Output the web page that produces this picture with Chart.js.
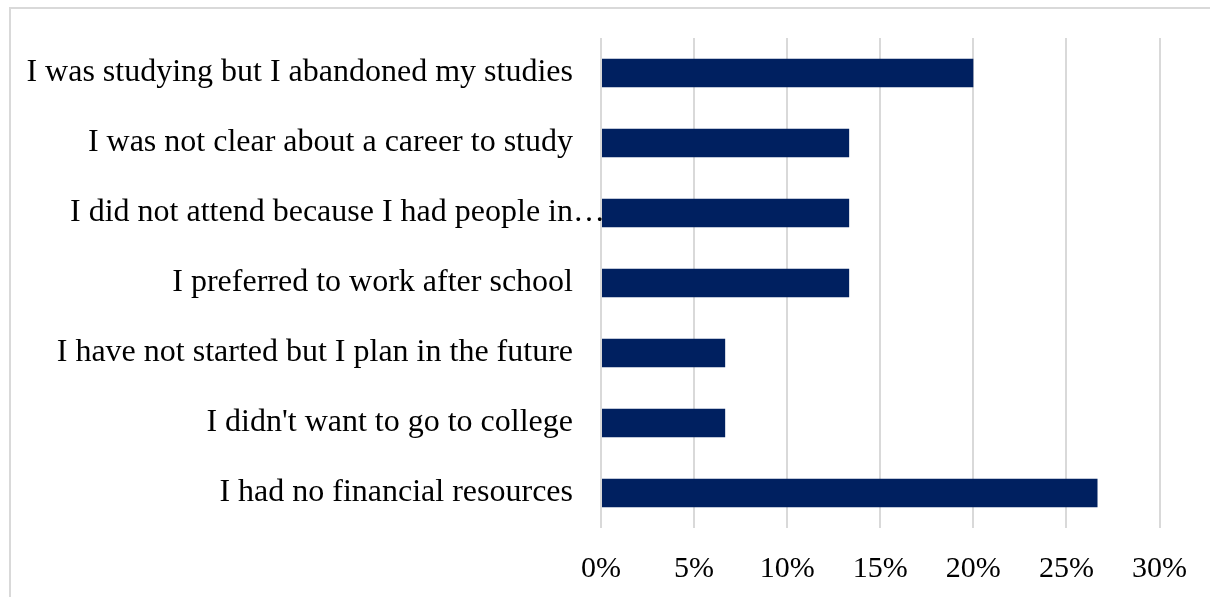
<!DOCTYPE html>
<html>
<head>
<meta charset="utf-8">
<script src="https://cdn.jsdelivr.net/npm/chart.js@4"></script>
<style>
  html, body { margin: 0; padding: 0; background: #fff; }
  #wrap { position: relative; width: 1210px; height: 597px; }
</style>
</head>
<body>
<div id="wrap"><canvas id="reasons"></canvas></div>
<script>
// Reasons for not continuing studies (share of respondents)
const reasons = [
    'I was studying but I abandoned my studies',
    'I was not clear about a career to study',
    'I did not attend because I had people in\u2026',
    'I preferred to work after school',
    'I have not started but I plan in the future',
    "I didn't want to go to college",
    'I had no financial resources'
];
const shares = [20.0, 13.33, 13.33, 13.33, 6.67, 6.67, 26.67];
const tickValues = [0, 5, 10, 15, 20, 25, 30];

const serif = "'Liberation Serif', 'Times New Roman', serif";
const labelFont = "32px " + serif;
const labelGap = 28;

// thin grey frame around the plot, as in the exported office chart
const frame = {
    id: 'frame',
    beforeDraw(chart) {
        const c = chart.ctx;
        c.save();
        c.strokeStyle = '#d9d9d9';
        c.lineWidth = 2;
        c.strokeRect(10, 8, chart.width + 20, chart.height + 20);
        c.restore();
    }
};

// category labels drawn by hand so a truncated label lets its ellipsis
// hang past the gap (office style), and the bars paint over it
const categoryLabels = {
    id: 'categoryLabels',
    beforeDatasetsDraw(chart) {
        const c = chart.ctx;
        const y = chart.scales.y;
        const right = chart.chartArea.left - labelGap;
        c.save();
        c.font = labelFont;
        c.fillStyle = '#000';
        c.textAlign = 'left';
        c.textBaseline = 'middle';
        chart.data.labels.forEach((txt, i) => {
            let body = txt;
            if (txt.endsWith('\u2026')) body = txt.slice(0, -1);
            const w = c.measureText(body).width;
            c.fillText(txt, right - w, y.getPixelForTick(i));
        });
        c.restore();
    }
};

const config = {
    type: 'bar',
    data: {
        labels: reasons,
        datasets: [{
            data: shares,
            backgroundColor: '#002060',
            borderWidth: 0,
            barPercentage: 0.41,
            categoryPercentage: 1.0
        }]
    },
    options: {
        indexAxis: 'y',
        responsive: false,
        animation: false,
        layout: { padding: { top: 38, right: 50, bottom: 0, left: 0 } },
        plugins: {
            legend: { display: false },
            tooltip: { enabled: false }
        },
        scales: {
            x: {
                min: 0,
                max: 30,
                afterBuildTicks(axis) {
                    axis.ticks = tickValues.map(v => ({ value: v }));
                },
                ticks: {
                    color: '#000',
                    padding: 23,
                    font: { family: serif, size: 30 },
                    callback: v => v + '%'
                },
                grid: { color: '#d9d9d9', lineWidth: 2, drawTicks: false },
                border: { display: false },
                afterFit(axis) { axis.height = 69; }
            },
            y: {
                // real labels come from the categoryLabels plugin
                ticks: {
                    color: 'rgba(0,0,0,0)',
                    padding: labelGap,
                    autoSkip: false,
                    font: { family: serif, size: 8 }
                },
                grid: { display: false, drawTicks: false },
                border: { display: false },
                afterFit(axis) { axis.width = 601; }
            }
        }
    },
    plugins: [frame, categoryLabels]
};

const canvas = document.getElementById('reasons');
canvas.width = 1210;
canvas.height = 597;
new Chart(canvas, config);
</script>
</body>
</html>
